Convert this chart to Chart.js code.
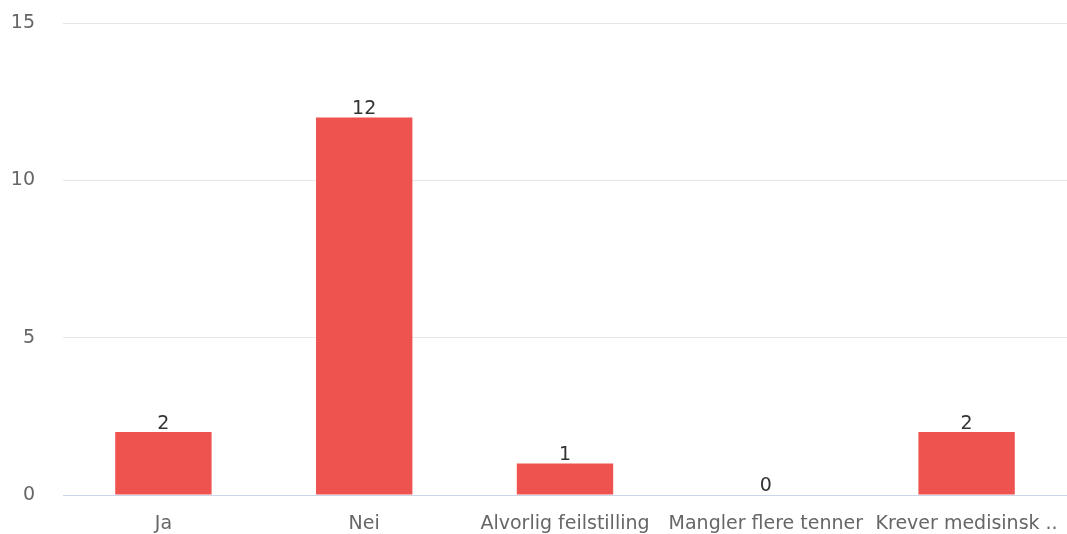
<!DOCTYPE html>
<html><head><meta charset="utf-8">
<script src="https://cdn.jsdelivr.net/npm/chart.js@4"></script>
<style>html,body{margin:0;padding:0;background:#fff}#wrap{width:1067px;height:534px}</style>
</head><body><div id="wrap"><canvas id="c"></canvas></div>
<script>
const categories = ["Ja", "Nei", "Alvorlig feilstilling", "Mangler flere tenner", "Krever medisinsk .."];
const values = [2, 12, 1, 0, 2];
const yTicks = [0, 5, 10, 15];

const FONT = "'DejaVu Sans', sans-serif";

const labelPlugin = {
  id: 'valLabels',
  afterDatasetsDraw(chart) {
    const ctx = chart.ctx;
    const meta = chart.getDatasetMeta(0);
    ctx.save();
    ctx.font = "19px " + FONT;
    ctx.fillStyle = '#333333';
    ctx.textAlign = 'center';
    ctx.textBaseline = 'bottom';
    meta.data.forEach((bar, i) => {
      ctx.fillText(String(values[i]), bar.x, bar.y + 1);
    });
    ctx.restore();
  }
};

new Chart(document.getElementById('c'), {
  type: 'bar',
  data: {
    labels: categories,
    datasets: [{
      data: values,
      backgroundColor: '#EE5350',
      borderWidth: 0,
      categoryPercentage: 1,
      barPercentage: 0.48
    }]
  },
  options: {
    responsive: true,
    maintainAspectRatio: false,
    animation: false,
    layout: { padding: { top: 23, right: 0, bottom: 0, left: 11 } },
    plugins: { legend: { display: false }, tooltip: { enabled: false } },
    scales: {
      x: {
        grid: { display: false },
        border: { display: false },
        afterFit(axis) { axis.height = 39; axis.paddingLeft = 0; axis.paddingRight = 0; },
        ticks: {
          color: '#666666', font: { family: FONT, size: 19 },
          autoSkip: false, maxRotation: 0, minRotation: 0, padding: 10
        }
      },
      y: {
        min: 0, max: 15,
        afterBuildTicks(axis) { axis.ticks = yTicks.map(v => ({ value: v })); },
        afterFit(axis) { axis.width = 52; axis.paddingTop = 0; axis.paddingBottom = 0; },
        grid: {
          color: (c) => c.tick && c.tick.value === 0 ? '#ccd6eb' : '#e6e6e6',
          lineWidth: 1,
          drawTicks: false
        },
        border: { display: false },
        ticks: {
          color: '#666666', font: { family: FONT, size: 19 }, padding: 28
        }
      }
    }
  },
  plugins: [labelPlugin]
});
</script>
</body></html>
